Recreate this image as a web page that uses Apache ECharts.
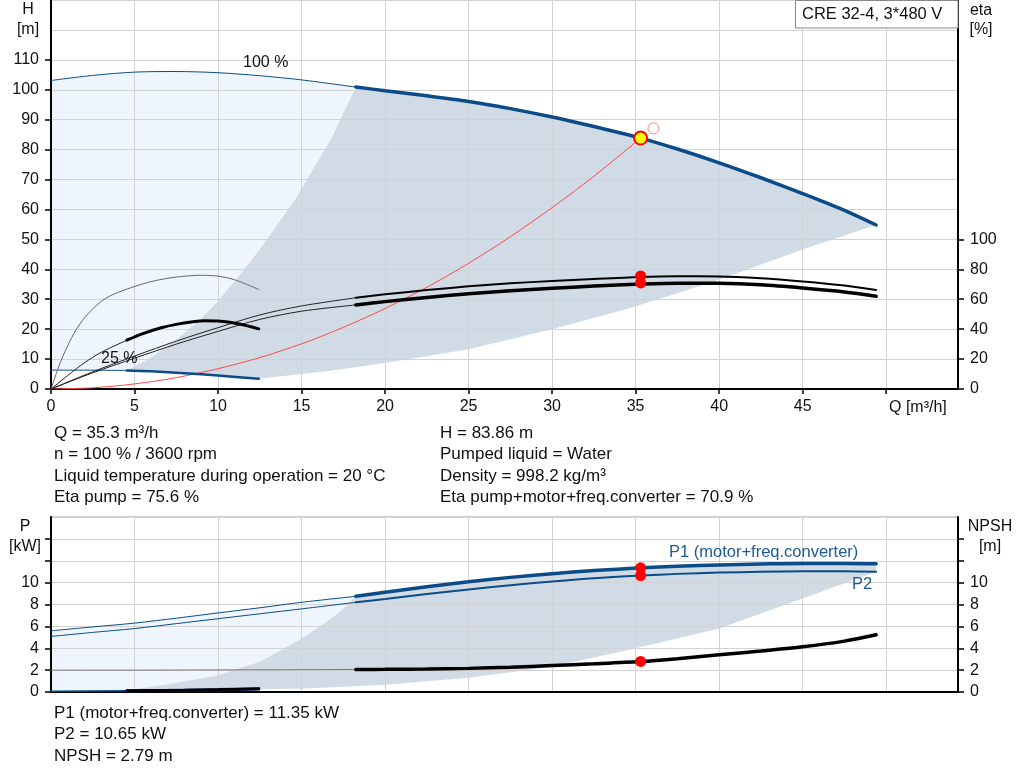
<!DOCTYPE html>
<html><head><meta charset="utf-8">
<script src="https://cdn.jsdelivr.net/npm/echarts@6/dist/echarts.min.js"></script>
<style>html,body{margin:0;padding:0;background:#fff}#c{width:1024px;height:781px}</style>
</head><body><div id="c"></div>
<script>
const FONT = '"Liberation Sans", Arial, sans-serif';

// ---------- 100 % speed curves (Q in m3/h) ----------
const q100        = [0, 2.5, 5, 7.5, 10, 12.5, 15, 18.25, 20, 22.5, 25, 27.5, 30, 32.5, 35.3, 37.5, 40, 42.5, 45, 47.5, 49.4];
const head100     = [103.1, 104.8, 105.9, 106.1, 105.7, 104.7, 103.3, 100.9, 99.7, 98.0, 96.1, 93.7, 90.9, 87.7, 83.86, 80.2, 75.6, 70.6, 65.3, 59.7, 54.8];
const etaPump100  = [0, 11.5, 22, 32, 41, 49.5, 55.5, 61, 63.3, 66.1, 68.6, 70.6, 72.2, 73.6, 74.9, 75.3, 75.2, 74.0, 71.9, 69.2, 66.2];
const etaTotal100 = [0, 10.8, 20.6, 30, 38.5, 46.5, 52, 56.2, 58.4, 61.2, 63.6, 65.6, 67.3, 68.8, 70.1, 70.7, 70.6, 69.6, 67.5, 64.9, 62.0];
const p1_100      = [5.6, 5.95, 6.3, 6.75, 7.23, 7.7, 8.2, 8.75, 9.12, 9.62, 10.08, 10.48, 10.82, 11.1, 11.35, 11.5, 11.62, 11.7, 11.76, 11.76, 11.72];
const p2_100      = [5.08, 5.45, 5.8, 6.25, 6.7, 7.15, 7.6, 8.2, 8.5, 8.96, 9.38, 9.76, 10.1, 10.4, 10.65, 10.8, 10.92, 10.99, 11.03, 11.03, 11.0];
const npsh100     = [2.0, 2.0, 2.0, 2.01, 2.02, 2.03, 2.04, 2.06, 2.07, 2.1, 2.16, 2.27, 2.42, 2.58, 2.79, 3.05, 3.4, 3.75, 4.13, 4.65, 5.23];
const SPLIT100 = 7; // index where the allowed (thick) range starts

// ---------- 25 % speed curves ----------
const q25h   = [0, 2, 4.54, 6, 8, 10, 12.44];
const head25 = [6.3, 6.3, 6.2, 5.9, 5.3, 4.5, 3.4];
const q25pump   = [0, 0.5, 1, 1.5, 2, 2.5, 3, 3.5, 4, 5, 6, 7, 8, 9, 10, 11, 12.44];
const etaPump25 = [0, 16, 29, 39.5, 47.5, 53.5, 58.5, 62, 64.5, 68.5, 71.8, 74, 75.4, 76, 75.4, 73, 66.5];
const q25tot     = [0, 1, 2, 3, 4.54, 5.5, 6.6, 7.5, 8.5, 9.2, 10, 11.2, 12.44];
const etaTotal25 = [0, 9, 17.5, 24.5, 32.6, 37, 40.9, 43.2, 44.9, 45.6, 45.4, 43.6, 40.2];
const q25p   = [0, 4.54, 8, 10, 12.44];
const p1_25  = [0.07, 0.12, 0.17, 0.21, 0.27];
const npsh25 = [0.1, 0.12, 0.17, 0.22, 0.3];
const SPLIT25H = 2, SPLIT25T = 4, SPLIT25P = 1;

// ---------- system curve ----------
const qSys = [0, 2.5, 5, 7.5, 10, 12.5, 15, 17.5, 20, 22.5, 25, 27.5, 30, 32.5, 35.3];
const hSys = [0, 0.4, 1.7, 3.8, 6.8, 10.5, 15.1, 20.6, 26.9, 34, 42, 50.9, 60.6, 71.1, 83.86];

// ---------- operating range boundaries ----------
const topLeftQ = [4.54, 6, 7.5, 9, 10, 11.3, 12.5, 14.6, 16.74, 18.25];
const topLeftH = [6.2, 10.5, 16.5, 23.5, 29.4, 38, 46.7, 63.2, 83.3, 100.9];
const topLowQ  = [12.44, 15, 16.74, 20, 25, 30, 35, 40, 45, 49.4];
const topLowH  = [3.4, 5.0, 6.1, 8.7, 13.3, 20, 27.6, 36.5, 46.6, 54.8];
const botLeftQ = [4.54, 7.3, 10, 12.5, 15, 16.5, 17.7, 18.25];
const botLeftP = [0.15, 0.77, 1.54, 2.77, 4.9, 6.4, 7.85, 8.75];
const botLowQ  = [12.44, 15, 20, 25, 30, 35, 40, 45, 47.8, 49.4];
const botLowP  = [0.27, 0.3, 0.67, 1.3, 2.3, 4.0, 5.8, 8.56, 10.1, 11.0];

// ---------- duty point ----------
const dutyQ = 35.3, dutyH = 83.86, dutyEtaPump = 75.6, dutyEtaTotal = 70.9;
const dutyP1 = 11.35, dutyP2 = 10.65, dutyNPSH = 2.79;
const reqQ = 36.07, reqH = 87.1;

// ---------- axis ticks ----------
const xTicks = [0, 5, 10, 15, 20, 25, 30, 35, 40, 45, 50];
const xLabels = [0, 5, 10, 15, 20, 25, 30, 35, 40, 45];
const hTicks = [0, 10, 20, 30, 40, 50, 60, 70, 80, 90, 100, 110];
const etaTicks = [0, 20, 40, 60, 80, 100];
const pTicks = [0, 2, 4, 6, 8, 10, 12, 14];
const pLabels = [0, 2, 4, 6, 8, 10];

const infoLeft = ['Q = 35.3 m³/h', 'n = 100 % / 3600 rpm', 'Liquid temperature during operation = 20 °C', 'Eta pump = 75.6 %'];
const infoRight = ['H = 83.86 m', 'Pumped liquid = Water', 'Density = 998.2 kg/m³', 'Eta pump+motor+freq.converter = 70.9 %'];
const infoBottom = ['P1 (motor+freq.converter) = 11.35 kW', 'P2 = 10.65 kW', 'NPSH = 2.79 m'];

function pts(xs, ys, from, to) {
  if (from === undefined) from = 0;
  if (to === undefined) to = xs.length - 1;
  const out = [];
  for (let i = from; i <= to; i++) out.push([xs[i], ys[i]]);
  return out;
}
function rev(a) { return a.slice().reverse(); }

const BLUE = '#0b4c88', BLACK = '#000';
const LIGHT = '#eef5fc', DARK = '#d0dbe6';

function poly(points, color, xi, yi) {
  return {
    type: 'custom', xAxisIndex: xi, yAxisIndex: yi, z: 0, silent: true,
    data: [[0, 0]],
    renderItem: function (params, api) {
      return { type: 'polygon', shape: { points: points.map(p => api.coord(p)), smooth: 0 }, style: { fill: color } };
    }
  };
}
function line(data, color, width, xi, yi, z, smooth) {
  return {
    type: 'line', xAxisIndex: xi, yAxisIndex: yi, data: data, smooth: smooth || 0.3, symbol: 'none',
    lineStyle: { color: color, width: width, cap: 'round' }, z: z || 3, silent: true
  };
}
function dot(data, xi, yi, size, color, border, bw, z) {
  return {
    type: 'scatter', xAxisIndex: xi, yAxisIndex: yi, data: data, symbolSize: size, z: z || 6, silent: true,
    itemStyle: { color: color, borderColor: border, borderWidth: bw, opacity: 1 }
  };
}

const n100 = q100.length - 1;
const topLight = [].concat(pts(q100, head100, 0, SPLIT100), rev(pts(topLeftQ, topLeftH)), rev(pts(q25h, head25, 0, SPLIT25H)));
const topDark = [].concat(pts(topLeftQ, topLeftH), pts(q100, head100, SPLIT100, n100), rev(pts(topLowQ, topLowH)), rev(pts(q25h, head25, SPLIT25H, q25h.length - 1)));
const botLight = [].concat(pts(q100, p1_100, 0, SPLIT100), rev(pts(botLeftQ, botLeftP)), rev(pts(q25p, p1_25, 0, SPLIT25P)));
const botDark = [].concat(pts(botLeftQ, botLeftP), pts(q100, p1_100, SPLIT100, n100), rev(pts(botLowQ, botLowP)), rev(pts(q25p, p1_25, SPLIT25P, q25p.length - 1)));

const gridColor = '#d2d2d2';
const axisBase = { z: 1 };
const xVisible = (gi, labels) => Object.assign({}, axisBase, {
  type: 'value', gridIndex: gi, min: 0, max: 54.3, interval: 5,
  axisLine: { show: true, onZero: false, lineStyle: { color: '#000', width: 2 } },
  axisTick: labels ? { show: true, length: 5, customValues: xTicks, lineStyle: { color: '#000', width: 1.5 } } : { show: false },
  axisLabel: labels ? { show: true, customValues: xLabels, fontSize: 16, color: '#111', fontFamily: FONT, margin: 10 } : { show: false },
  splitLine: { show: false }
});
const xGridOnly = gi => Object.assign({}, axisBase, {
  type: 'value', gridIndex: gi, min: 0, max: 54.3, interval: 5, position: 'bottom',
  axisLine: { show: false }, axisTick: { show: false }, axisLabel: { show: false },
  splitLine: { show: true, lineStyle: { color: gridColor, width: 1 } }
});
const yVisible = (gi, pos, max, interval, ticks, labels) => Object.assign({}, axisBase, {
  type: 'value', gridIndex: gi, position: pos, min: 0, max: max, interval: interval,
  axisLine: { show: true, onZero: false, lineStyle: { color: '#000', width: 2 } },
  axisTick: { show: true, length: 6, customValues: ticks, lineStyle: { color: '#000', width: 1.5 } },
  axisLabel: { show: true, customValues: labels, fontSize: 16, color: '#111', fontFamily: FONT, margin: 12 },
  splitLine: { show: false }
});
const yGridOnly = (gi, max, interval) => Object.assign({}, axisBase, {
  type: 'value', gridIndex: gi, position: 'left', min: 0, max: max, interval: interval,
  axisLine: { show: false }, axisTick: { show: false }, axisLabel: { show: false },
  splitLine: { show: true, lineStyle: { color: gridColor, width: 1 } }
});

const series = [
  poly(topLight, LIGHT, 0, 0),
  poly(topDark, DARK, 0, 0),
  poly(botLight, LIGHT, 2, 3),
  poly(botDark, DARK, 2, 3),
  // system curve
  line(pts(qSys, hSys), '#ff4a4a', 1, 0, 0, 3),
  // head curves
  line(pts(q100, head100, 0, SPLIT100), BLUE, 1, 0, 0),
  line(pts(q100, head100, SPLIT100, n100), BLUE, 3.5, 0, 0),
  line(pts(q25h, head25, 0, SPLIT25H), BLUE, 1, 0, 0),
  line(pts(q25h, head25, SPLIT25H, q25h.length - 1), BLUE, 2.5, 0, 0),
  // efficiency curves 100 %
  line(pts(q100, etaPump100, 0, SPLIT100), '#222', 1, 0, 1),
  line(pts(q100, etaPump100, SPLIT100, n100), BLACK, 2, 0, 1),
  line(pts(q100, etaTotal100, 0, SPLIT100), '#222', 1, 0, 1),
  line(pts(q100, etaTotal100, SPLIT100, n100), BLACK, 3.5, 0, 1),
  // efficiency curves 25 %
  line(pts(q25pump, etaPump25), '#666', 1, 0, 1, 3, 0.3),
  line(pts(q25tot, etaTotal25, 0, SPLIT25T), '#222', 1, 0, 1),
  line(pts(q25tot, etaTotal25, SPLIT25T, q25tot.length - 1), BLACK, 3, 0, 1),
  // power curves
  line(pts(q100, p1_100, 0, SPLIT100), BLUE, 1, 2, 3),
  line(pts(q100, p1_100, SPLIT100, n100), BLUE, 3.5, 2, 3),
  line(pts(q100, p2_100, 0, SPLIT100), BLUE, 1, 2, 3),
  line(pts(q100, p2_100, SPLIT100, n100), BLUE, 2, 2, 3),
  line(pts(q25p, p1_25, 0, SPLIT25P), BLUE, 1.5, 2, 3),
  line(pts(q25p, p1_25, SPLIT25P, q25p.length - 1), BLUE, 3, 2, 3),
  // NPSH
  line(pts(q100, npsh100, 0, SPLIT100), '#777', 1, 2, 4),
  line(pts(q100, npsh100, SPLIT100, n100), BLACK, 3.5, 2, 4),
  line(pts(q25p, npsh25, SPLIT25P, q25p.length - 1), BLACK, 3, 2, 4, 4),
  // duty points
  dot([[reqQ, reqH]], 0, 0, 11, 'rgba(0,0,0,0)', '#ff8080', 1),
  dot([[dutyQ, dutyH]], 0, 0, 13, '#ffff00', '#ff0000', 2),
  dot([[dutyQ, dutyEtaPump], [dutyQ, dutyEtaTotal]], 0, 1, 11, '#ff0000', '#ff0000', 0),
  dot([[dutyQ, dutyP1], [dutyQ, dutyP2]], 2, 3, 11, '#ff0000', '#ff0000', 0),
  dot([[dutyQ, dutyNPSH]], 2, 4, 11, '#ff0000', '#ff0000', 0)
];

function txt(t, x, y, opts) {
  return {
    type: 'text', z: 20, silent: true,
    style: Object.assign({ text: t, x: x, y: y, fill: '#111', font: '17px ' + FONT, textAlign: 'left', textVerticalAlign: 'middle' }, opts || {})
  };
}
const graphics = [
  { type: 'rect', z: 19, silent: true, shape: { x: 795.5, y: 0.5, width: 162.5, height: 27.5 }, style: { fill: '#fff', stroke: '#888', lineWidth: 1 } },
  txt('CRE 32-4, 3*480 V', 802, 14, { font: '16.5px ' + FONT }),
  txt('H', 28, 10, { textAlign: 'center', font: '16px ' + FONT }),
  txt('[m]', 28, 30, { textAlign: 'center', font: '16px ' + FONT }),
  txt('eta', 981, 11, { textAlign: 'center', font: '16px ' + FONT }),
  txt('[%]', 981, 30, { textAlign: 'center', font: '16px ' + FONT }),
  txt('Q [m³/h]', 889, 408, { font: '16px ' + FONT }),
  txt('100 %', 243, 63, { font: '16px ' + FONT }),
  txt('25 %', 101, 359, { font: '16px ' + FONT }),
  txt('P', 25, 527, { textAlign: 'center', font: '16px ' + FONT }),
  txt('[kW]', 25, 547, { textAlign: 'center', font: '16px ' + FONT }),
  txt('NPSH', 990, 527, { textAlign: 'center', font: '16px ' + FONT }),
  txt('[m]', 990, 547, { textAlign: 'center', font: '16px ' + FONT }),
  txt('P1 (motor+freq.converter)', 669, 552, { fill: '#1f5a96', font: '16.5px ' + FONT }),
  txt('P2', 852, 584, { fill: '#1f5a96', font: '16.5px ' + FONT })
];
const topY = [433, 454, 476, 497];
infoLeft.forEach((t, i) => graphics.push(txt(t, 54, topY[i])));
infoRight.forEach((t, i) => graphics.push(txt(t, 440, topY[i])));
const botY = [713, 734, 756];
infoBottom.forEach((t, i) => graphics.push(txt(t, 54, botY[i])));

const chart = echarts.init(document.getElementById('c'), null, { renderer: 'canvas' });
chart.setOption({
  animation: false,
  backgroundColor: '#fff',
  textStyle: { fontFamily: FONT },
  grid: [
    { left: 51, top: 0, width: 907, height: 389, show: true, borderColor: '#9a9a9a', borderWidth: 1, backgroundColor: 'transparent', containLabel: false },
    { left: 51, top: 517, width: 907, height: 175, show: true, borderColor: '#9a9a9a', borderWidth: 1, backgroundColor: 'transparent', containLabel: false }
  ],
  xAxis: [xVisible(0, true), xGridOnly(0), xVisible(1, false), xGridOnly(1)],
  yAxis: [
    yVisible(0, 'left', 130, 10, hTicks, hTicks),
    yVisible(0, 'right', 260, 20, etaTicks, etaTicks),
    yGridOnly(0, 130, 10),
    yVisible(1, 'left', 16, 2, pTicks, pLabels),
    yVisible(1, 'right', 16, 2, pTicks, pLabels),
    yGridOnly(1, 16, 2)
  ],
  series: series,
  graphic: { elements: graphics }
});
</script>
</body></html>
